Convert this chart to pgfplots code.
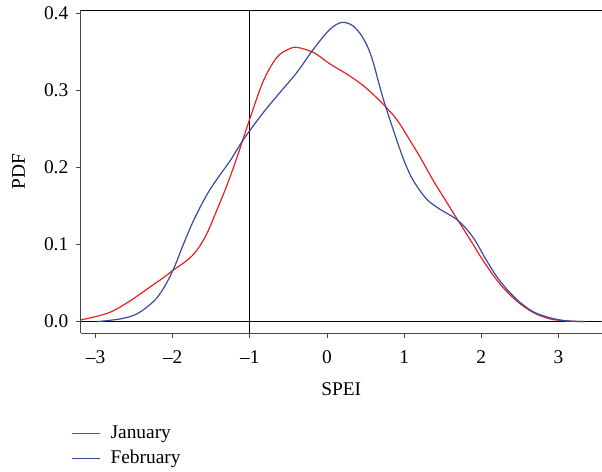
\documentclass[border=0pt]{standalone}
\usepackage{pgfplots}
\pgfplotsset{compat=1.18}
\usepackage{fontspec}
\setmainfont{Liberation Serif}
\definecolor{jan}{RGB}{235,30,35}
\definecolor{feb}{RGB}{55,75,160}
\definecolor{axgray}{RGB}{70,70,70}
\begin{document}
\fontsize{19.5}{23}\selectfont
\begin{tikzpicture}
\begin{axis}[
  name=ax,
  scale only axis,
  width=521bp, height=323bp,
  xmin=-3.19, xmax=3.559,
  ymin=-0.0149, ymax=0.4035,
  axis x line*=bottom, axis y line*=left,
  axis line style={axgray, line width=1pt},
  every tick/.style={axgray, line width=0.8pt},
  tick align=outside,
  major tick length=5bp,
  xtick={-3,-2,-1,0,1,2,3},
  xticklabels={--3,--2,--1,0,1,2,3},
  xticklabel style={yshift=-6bp},
  ytick={0,0.1,0.2,0.3,0.4},
  yticklabel style={xshift=-1bp, /pgf/number format/fixed, /pgf/number format/fixed zerofill, /pgf/number format/precision=1},
  /pgf/number format/assume math mode=true,
  xlabel={SPEI}, ylabel={PDF},
  xlabel style={yshift=-6bp},
  ylabel style={yshift=6bp},
  legend style={draw=none, fill=none, at={(axis description cs:-0.024,-0.2745)}, anchor=north west, row sep=4.5bp, column sep=9bp, font=\fontsize{19.5}{23}\selectfont},
  legend cell align=left,
  legend image code/.code={\fill[#1, draw=none] (0bp,-0.65bp) rectangle (28bp,0.65bp);},
  clip=true,
]
\addplot[black, line width=0.8pt, forget plot] coordinates {(-1,-0.0149) (-1,0.4035)};
\addplot[black, line width=0.8pt, forget plot] coordinates {(-3.19,0) (3.559,0)};
\addplot[jan, line width=1.2pt, smooth, tension=0.55] table {
x y
-3.20 0.002
-2.94 0.008
-2.77 0.014
-2.55 0.027
-2.335 0.042
-2.12 0.057
-1.99 0.067
-1.82 0.079
-1.69 0.092
-1.56 0.1135
-1.43 0.144
-1.30 0.176
-1.17 0.212
-1.0 0.263
-0.825 0.312
-0.65 0.3425
-0.50 0.353
-0.39 0.3555
-0.177 0.349
0.04 0.334
0.255 0.321
0.47 0.306
0.687 0.286
0.90 0.2625
1.075 0.235
1.22 0.211
1.377 0.183
1.55 0.155
1.70 0.131
1.87 0.104
2.025 0.079
2.24 0.049
2.457 0.027
2.67 0.012
2.89 0.0035
3.10 0.001
3.34 0.0
};
\addlegendentry{January}
\addplot[feb, line width=1.2pt, smooth, tension=0.55] table {
x y
-2.98 0.0
-2.68 0.0035
-2.465 0.010
-2.25 0.026
-2.12 0.043
-1.99 0.068
-1.86 0.1006
-1.73 0.131
-1.56 0.164
-1.41 0.187
-1.256 0.2085
-1.08 0.2365
-0.825 0.271
-0.61 0.297
-0.39 0.323
-0.177 0.353
0.04 0.379
0.21 0.388
0.385 0.379
0.557 0.349
0.73 0.2885
0.90 0.2365
1.01 0.206
1.118 0.183
1.29 0.159
1.46 0.146
1.70 0.131
1.895 0.109
2.07 0.079
2.24 0.053
2.457 0.029
2.67 0.013
2.89 0.005
3.10 0.001
3.34 0.0
};
\addlegendentry{February}
\end{axis}
\draw[black, line width=1pt] (ax.north west) -- (ax.north east);
\path[use as bounding box] ([xshift=-81bp,yshift=-139bp]ax.south west) rectangle ([yshift=10bp]ax.north east);
\end{tikzpicture}
\end{document}
